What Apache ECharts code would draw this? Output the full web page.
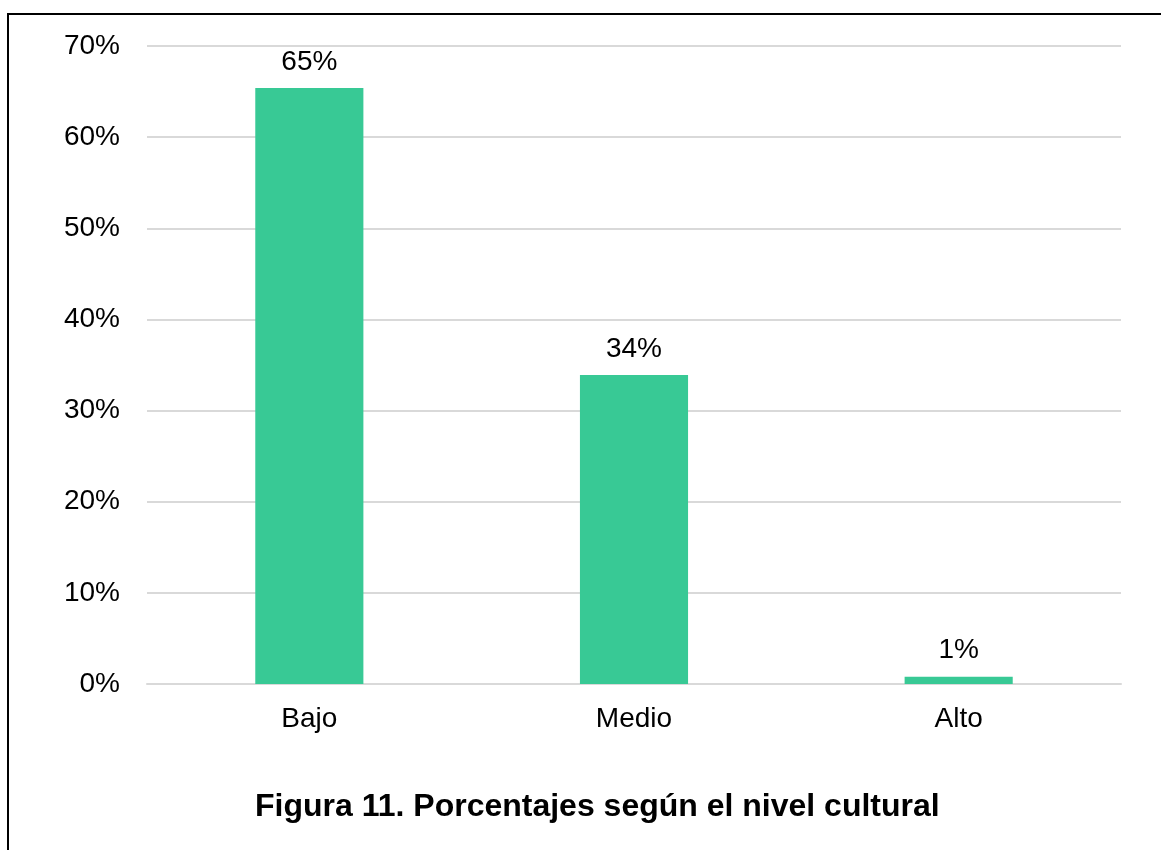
<!DOCTYPE html>
<html>
<head>
<meta charset="utf-8">
<script src="https://cdn.jsdelivr.net/npm/echarts@6/dist/echarts.min.js"></script>
<style>
  html, body { margin: 0; padding: 0; background: #fff; }
  #chart { width: 1161px; height: 850px; }
</style>
</head>
<body>
<div id="chart"></div>
<script>
  // nivel cultural
  var categories = ['Bajo', 'Medio', 'Alto']
  var percentages = [65.4, 33.9, 0.8]
  var yTicks = [0, 10, 20, 30, 40, 50, 60, 70]

  var font = '"Liberation Sans", Arial, sans-serif'
  var chart = echarts.init(document.getElementById('chart'))
  chart.setOption({
    animation: false,
    title: {
      text: 'Figura 11. Porcentajes según el nivel cultural',
      left: 250,
      top: 786,
      textStyle: {
        fontFamily: font,
        fontSize: 32,
        fontWeight: 'bold',
        color: '#000'
      }
    },
    graphic: [{
      type: 'rect',
      shape: { x: 8, y: 14, width: 1200, height: 900 },
      style: { fill: 'none', stroke: '#000', lineWidth: 2 }
    }],
    grid: {
      left: 147,
      right: 40,
      top: 46,
      bottom: 166
    },
    xAxis: {
      type: 'category',
      data: categories,
      axisTick: { show: false },
      axisLine: { lineStyle: { color: '#d9d9d9', width: 2 } },
      axisLabel: {
        margin: 21,
        fontFamily: font,
        fontSize: 28,
        color: '#000'
      }
    },
    yAxis: {
      type: 'value',
      min: yTicks[0],
      max: yTicks[yTicks.length - 1],
      interval: 10,
      axisLine: { show: false },
      axisTick: { show: false },
      splitLine: { lineStyle: { color: '#d9d9d9', width: 2 } },
      axisLabel: {
        margin: 27,
        fontFamily: font,
        fontSize: 28,
        color: '#000',
        formatter: '{value}%'
      }
    },
    series: [{
      type: 'bar',
      data: percentages,
      barWidth: '33.3%',
      itemStyle: { color: '#38c995' },
      label: {
        show: true,
        position: 'top',
        distance: 12,
        fontFamily: font,
        fontSize: 28,
        color: '#000',
        formatter: function (p) { return Math.round(p.value) + '%' }
      }
    }]
  })
</script>
</body>
</html>
